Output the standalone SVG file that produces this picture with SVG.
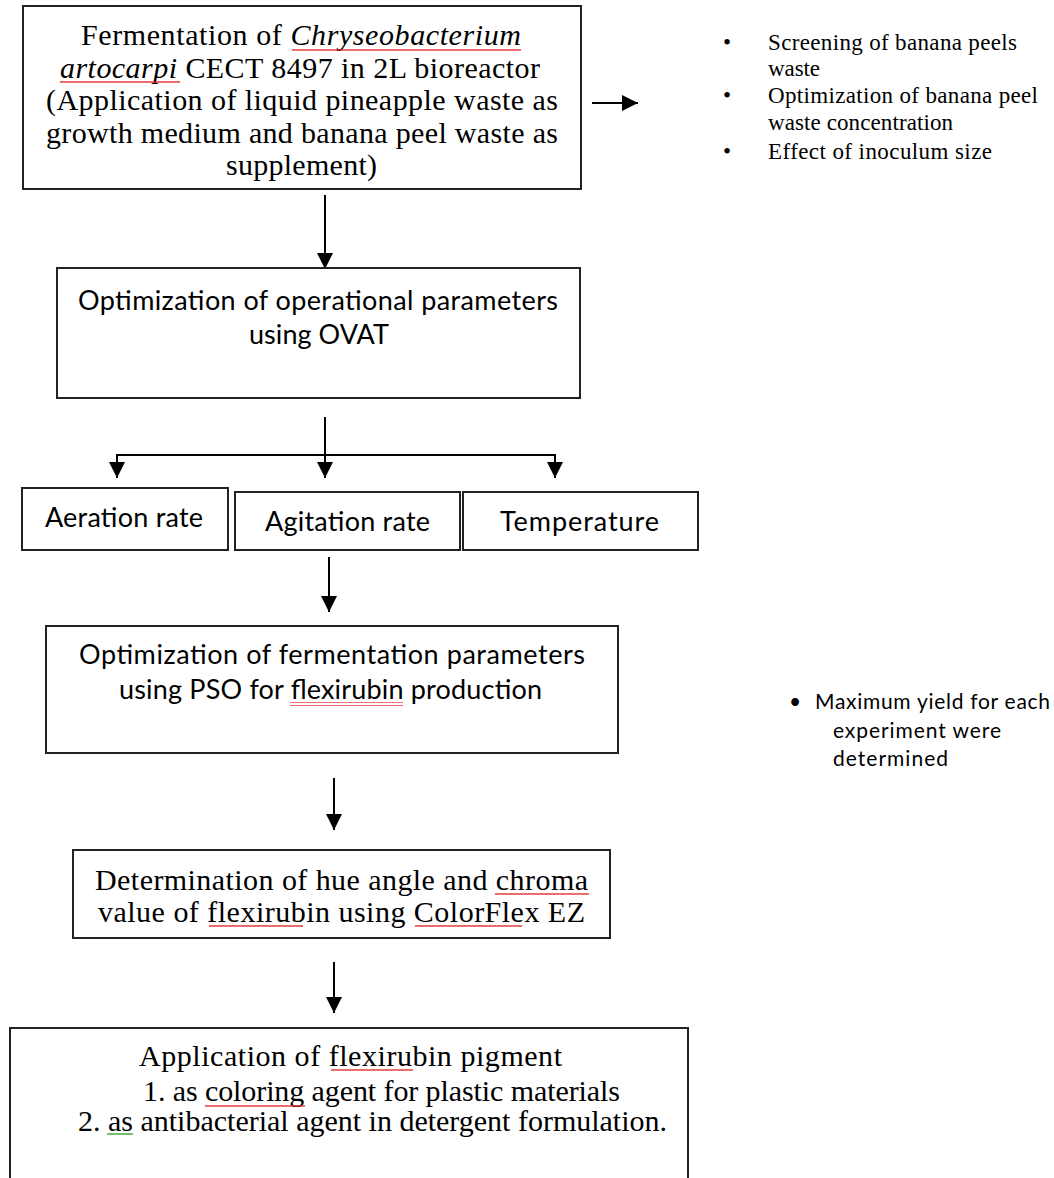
<svg xmlns="http://www.w3.org/2000/svg" width="1054" height="1178" viewBox="0 0 1054 1178">
<style>
.box{fill:#fff;stroke:#222;stroke-width:2}
.serif{font-family:"Liberation Serif","Times New Roman",serif;fill:#000}
.sans{font-family:Lato,"Open Sans",sans-serif;fill:#000}
.t30{font-size:30px}
.t23{font-size:23px}
.s27{font-size:27px}
.s21{font-size:21px}
.conn{stroke:#000;stroke-width:2;fill:none}
</style>
<defs>
<marker id="ahBig" viewBox="0 0 10 10" refX="10" refY="5" markerWidth="16" markerHeight="16" markerUnits="userSpaceOnUse" orient="auto">
<path d="M0,0 L10,5 L0,10 z" fill="#000"/>
</marker>
<pattern id="wavy" width="4" height="4" patternUnits="userSpaceOnUse">
<path d="M0,3 L1,1 L2,3 L3,1 L4,3" fill="none" stroke="#e02020" stroke-width="0.8"/>
</pattern>
<pattern id="wavyG" width="4" height="4" patternUnits="userSpaceOnUse">
<path d="M0,3 L1,1 L2,3 L3,1 L4,3" fill="none" stroke="#20a020" stroke-width="0.8"/>
</pattern>
</defs>

<g id="connectors">
<line class="conn" x1="325" y1="195" x2="325" y2="269" marker-end="url(#ahBig)"/>
<line class="conn" x1="592" y1="103" x2="638" y2="103" marker-end="url(#ahBig)"/>
<line class="conn" x1="325" y1="417" x2="325" y2="455"/>
<line class="conn" x1="116" y1="455" x2="556" y2="455"/>
<line class="conn" x1="117" y1="454" x2="117" y2="478" marker-end="url(#ahBig)"/>
<line class="conn" x1="325" y1="455" x2="325" y2="478" marker-end="url(#ahBig)"/>
<line class="conn" x1="555" y1="454" x2="555" y2="478" marker-end="url(#ahBig)"/>
<line class="conn" x1="329" y1="557" x2="329" y2="612" marker-end="url(#ahBig)"/>
<line class="conn" x1="334" y1="778" x2="334" y2="830" marker-end="url(#ahBig)"/>
<line class="conn" x1="334" y1="962" x2="334" y2="1013" marker-end="url(#ahBig)"/>
</g>

<g id="node-fermentation">
<rect class="box" x="23" y="6" width="558" height="183"/>
<text class="serif t30" x="81" y="45" textLength="440">Fermentation of <tspan font-style="italic">Chryseobacterium</tspan></text>
<text class="serif t30" x="60" y="78" textLength="480"><tspan font-style="italic">artocarpi</tspan> CECT 8497 in 2L bioreactor</text>
<text class="serif t30" x="46" y="110" textLength="512">(Application of liquid pineapple waste as</text>
<text class="serif t30" x="46" y="143" textLength="512">growth medium and banana peel waste as</text>
<text class="serif t30" x="226" y="175" textLength="151">supplement)</text>
<rect x="292" y="47" width="229" height="4" fill="url(#wavy)"/>
<rect x="60" y="80" width="120" height="4" fill="url(#wavy)"/>
</g>

<g id="node-screening-notes">
<text class="serif t23" x="723" y="50">•</text>
<text class="serif t23" x="768" y="50" textLength="249">Screening of banana peels</text>
<text class="serif t23" x="768" y="76" textLength="52">waste</text>
<text class="serif t23" x="723" y="103">•</text>
<text class="serif t23" x="768" y="103" textLength="270">Optimization of banana peel</text>
<text class="serif t23" x="768" y="130" textLength="185">waste concentration</text>
<text class="serif t23" x="723" y="159">•</text>
<text class="serif t23" x="768" y="159" textLength="224">Effect of inoculum size</text>
</g>

<g id="node-ovat">
<rect class="box" x="57" y="268" width="523" height="130"/>
<text class="sans s27" x="78" y="310" textLength="480">Optimization of operational parameters</text>
<text class="sans s27" x="249" y="344" textLength="140">using OVAT</text>
</g>

<g id="node-aeration">
<rect class="box" x="22" y="488" width="206" height="62"/>
<text class="sans s27" x="45" y="527" textLength="158">Aeration rate</text>
</g>
<g id="node-agitation">
<rect class="box" x="235" y="492" width="225" height="58"/>
<text class="sans s27" x="265" y="531" textLength="165">Agitation rate</text>
</g>
<g id="node-temperature">
<rect class="box" x="463" y="492" width="235" height="58"/>
<text class="sans s27" x="500" y="531" textLength="159">Temperature</text>
</g>

<g id="node-pso">
<rect class="box" x="46" y="626" width="572" height="127"/>
<text class="sans s27" x="79" y="664" textLength="506">Optimization of fermentation parameters</text>
<text class="sans s27" x="119" y="699" textLength="423">using PSO for flexirubin production</text>
<rect x="290" y="702" width="113" height="4" fill="url(#wavy)"/>
</g>

<g id="node-yield-note">
<text class="sans s21" x="789" y="709">•</text>
<text class="sans s21" x="815" y="709" textLength="235">Maximum yield for each</text>
<text class="sans s21" x="833" y="738" textLength="168">experiment were</text>
<text class="sans s21" x="833" y="766" textLength="115">determined</text>
</g>

<g id="node-hue">
<rect class="box" x="73" y="850" width="537" height="88"/>
<text class="serif t30" x="95" y="890" textLength="493">Determination of hue angle and chroma</text>
<text class="serif t30" x="98" y="922" textLength="487">value of flexirubin using ColorFlex EZ</text>
<rect x="495" y="892" width="94" height="4" fill="url(#wavy)"/>
<rect x="209" y="924" width="94" height="4" fill="url(#wavy)"/>
<rect x="415" y="924" width="107" height="4" fill="url(#wavy)"/>
</g>

<g id="node-application">
<rect class="box" x="10" y="1028" width="678" height="160"/>
<text class="serif t30" x="139" y="1066" textLength="423">Application of flexirubin pigment</text>
<text class="serif t30" x="143" y="1101" textLength="477">1. as coloring agent for plastic materials</text>
<text class="serif t30" x="78" y="1131" textLength="589">2. as antibacterial agent in detergent formulation.</text>
<rect x="331" y="1068" width="82" height="4" fill="url(#wavy)"/>
<rect x="205" y="1103" width="100" height="4" fill="url(#wavy)"/>
<rect x="107" y="1133" width="26" height="4" fill="url(#wavyG)"/>
</g>
</svg>
